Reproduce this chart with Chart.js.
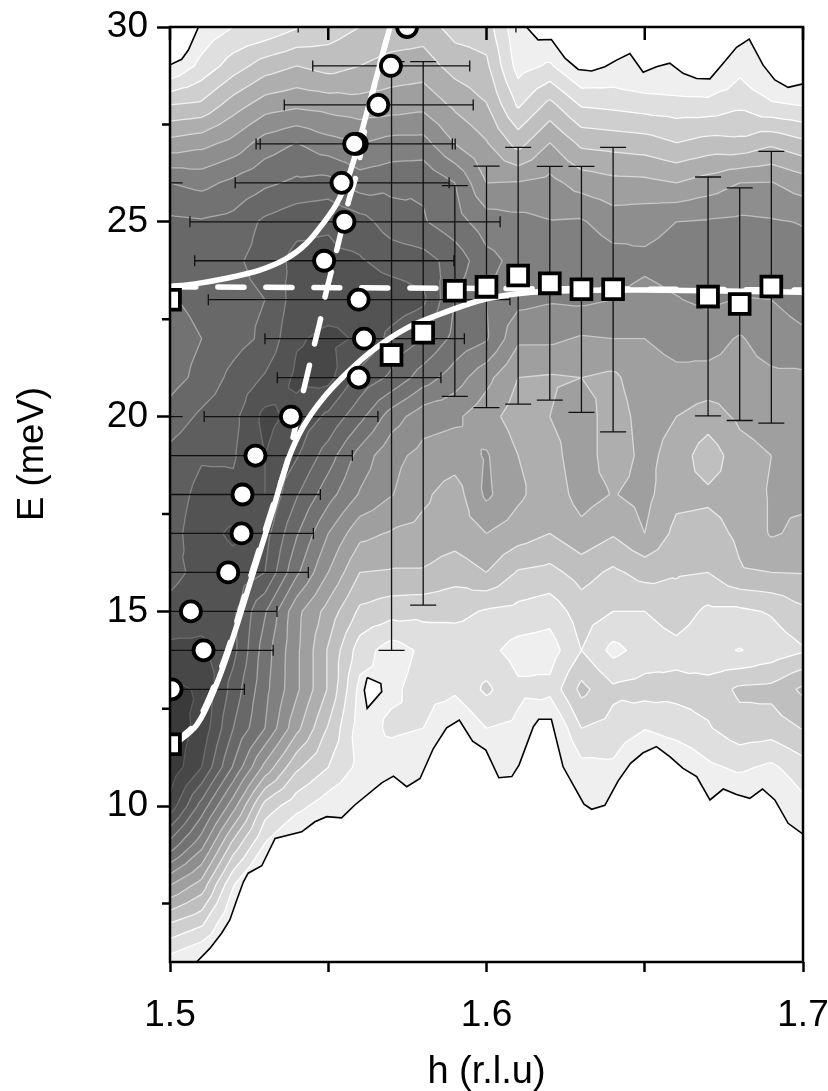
<!DOCTYPE html>
<html>
<head>
<meta charset="utf-8">
<title>E vs h</title>
<script src="https://cdn.jsdelivr.net/npm/chart.js@4/dist/chart.umd.min.js"></script>
<style>
    html, body { margin: 0; background: #fff; }
    canvas { display: block; }
</style>
</head>
<body>
<canvas id="chart" width="828" height="1091"></canvas>
<script>
// --- Axis values ---
const xTicks = [1.5, 1.55, 1.6, 1.65, 1.7];
const xLabels = [1.5, 1.6, 1.7];
const yTicks = [10, 15, 20, 25, 30];
const yMinorTicks = [7.5, 12.5, 17.5, 22.5, 27.5];

// --- Intensity map, one list per h column, each running from E = 30 down to E = 6 ---
const gridH = [1.50, 1.51, 1.52, 1.53, 1.54, 1.55, 1.56, 1.57, 1.58, 1.59, 1.60, 1.61, 1.62, 1.63, 1.64, 1.65, 1.66, 1.67, 1.68, 1.69, 1.70];
const gridE = [30, 29, 28, 27, 26, 25, 24, 23, 22, 21, 20, 19, 18, 17, 16, 15, 14, 13, 12, 11, 10, 9, 8, 7, 6];
const intensity = [
    [0.2, 1, 4, 6.4, 9, 10.2, 10.3, 9.9, 9.5, 9.6, 10.4, 11.3, 11.5, 11.6, 11.8, 12.2, 13.3, 14.2, 14.6, 14.7, 13.6, 10.6, 7.1, 4, 1.5],
    [1.3, 2.3, 4.2, 6.7, 8.7, 10.1, 10.4, 10.3, 10, 10.3, 11.2, 11.9, 12.3, 12.6, 12.2, 12.5, 13.3, 13.9, 13.7, 13, 10.6, 8.3, 5.65, 3.2, 0.7],
    [2, 3.5, 5.5, 7.35, 9.25, 10.3, 10.8, 10.7, 10.6, 11.3, 11.7, 11.9, 12.2, 13.2, 12.6, 12.2, 12.3, 11.6, 11, 9.9, 7.4, 4.6, 2.1, 0.8, 0],
    [2.2, 4.5, 6.5, 8.5, 9.8, 11.2, 11.4, 11, 11.2, 12.1, 13.3, 13, 13, 12.4, 12, 10.1, 9.5, 9.3, 9, 6.7, 3.6, 1.9, 0, 0, 0],
    [2.9, 5, 6.8, 9.05, 10.2, 11.7, 12.3, 12.5, 12.9, 13.2, 12.7, 12.1, 11.1, 10.1, 9.2, 7.3, 7.2, 7.2, 6.3, 4.2, 2.35, 0.5, 0, 0, 0],
    [3.5, 4.6, 6.6, 8.4, 10.35, 11.9, 12.2, 12.6, 13.2, 13.3, 11.8, 10.5, 9.4, 8, 7, 5.6, 4.9, 4.9, 3.9, 3, 1.4, 0, 0, 0, 0],
    [4, 5, 6.4, 8, 9.5, 11.4, 12.1, 12.7, 12.9, 11.7, 10.3, 8.6, 7.9, 6.3, 5, 3.8, 2.5, 1.7, 1.5, 1.7, 0.8, 0, 0, 0, 0],
    [4.3, 5.4, 6.5, 8.4, 9.7, 10.5, 11.6, 12.6, 11.7, 10.8, 8.5, 7.3, 7.05, 5.9, 4.9, 3.4, 1.5, 1.8, 2.2, 1.4, 0, 0, 0, 0, 0],
    [4.5, 5.5, 6.7, 8.4, 9.85, 10.1, 11.4, 12.2, 11, 9.5, 7.4, 6.7, 6.2, 5.7, 4.9, 3.3, 2.2, 2.4, 2, 1.1, 0, 0, 0, 0, 0],
    [3.6, 4.6, 5.8, 7, 9, 9.4, 10.6, 10, 9.7, 8.5, 7.2, 6.5, 5.5, 5.5, 4.4, 3.3, 2.3, 2.2, 0.9, 0, 0, 0, 0, 0, 0],
    [3.5, 4.2, 5.05, 6.1, 7, 8.5, 9.3, 9, 9.1, 7.3, 6.4, 7.1, 7.2, 6, 5, 2.9, 2.3, 3.2, 2, 0.6, 0, 0, 0, 0, 0],
    [1.2, 1.6, 2.85, 4.65, 7.05, 8.3, 8.7, 8.3, 7.2, 6, 5.5, 6, 6.2, 5.5, 3.9, 2.7, 1.6, 2.2, 1.8, 1, 0, 0, 0, 0, 0],
    [0.5, 2.15, 4.3, 6.05, 7.3, 8.05, 8.5, 8.1, 7.2, 5.9, 6, 5.6, 5.4, 5, 3.7, 2.4, 1.5, 2.3, 0.7, 0, 0, 0, 0, 0, 0],
    [0, 0.8, 2.9, 4.8, 6.6, 8.1, 8.8, 8.2, 6.9, 6, 6.5, 6.6, 6.4, 5.7, 4.4, 3.5, 3, 4.3, 3, 1.7, 0.9, 0, 0, 0, 0],
    [0, 1.1, 2.75, 4.65, 6.3, 7.5, 8.4, 8, 7, 5.8, 5.5, 5.4, 5.95, 5.1, 3.8, 3, 1.7, 3.2, 2.7, 1.8, 0.6, 0, 0, 0, 0],
    [0, 0.7, 2.55, 4.5, 6.25, 7.65, 8.2, 7.7, 7, 6.6, 6.4, 6.3, 6.3, 6, 4.35, 3, 2.4, 3.4, 2.05, 0.5, 0, 0, 0, 0, 0],
    [0, 0.6, 2.44, 4.05, 6, 8, 8.4, 7.95, 7.3, 6.8, 6, 5.6, 5.3, 4.7, 4.1, 3.5, 2.7, 3.3, 2.5, 0.9, 0, 0, 0, 0, 0],
    [0, 0.3, 2.4, 4.4, 6.45, 8.1, 8.5, 8.2, 7.4, 6.7, 5.5, 4.4, 5.2, 4.6, 4, 2.8, 2.3, 3.4, 2.9, 1.8, 0.9, 0, 0, 0, 0],
    [0.4, 1.65, 2.8, 4.3, 7, 8.2, 8.6, 7.95, 6.9, 6.6, 6.2, 5.6, 5.4, 5.2, 4.9, 2.8, 1.95, 4.2, 3.6, 2.2, 0.7, 0, 0, 0, 0],
    [0, 0.6, 2.15, 4.85, 7.05, 8.1, 8.6, 8, 7.5, 6.8, 6.5, 6, 6.1, 6.1, 5, 3.1, 2.4, 4.3, 3.5, 1.8, 0.8, 0, 0, 0, 0],
    [0, 0.2, 1.95, 4.3, 6.5, 7.95, 8.3, 8.4, 7.8, 6.8, 6.4, 6.3, 6.2, 5.8, 5.05, 3.8, 2.9, 5.2, 4.05, 2.6, 1.7, 0.7, 0, 0, 0]
];

// Contour level k sits at intensity k; band k is the area between levels k and k + 1
const bandGreys = ['#efefef', '#dfdfdf', '#cfcfcf', '#bfbfbf', '#aeaeae', '#9f9f9f', '#8e8e8e', '#808080', '#727272', '#686868', '#5e5e5e', '#535353', '#474747', '#3a3a3a'];
const lineGreys = ['#000000', '#ffffff', '#ffffff', '#f4f4f4', '#e8e8e8', '#d8d8d8', '#c8c8c8', '#bcbcbc', '#b0b0b0', '#a8a8a8', '#969696', '#868686', '#6e6e6e', '#5c5c5c'];

// --- Zero-intensity outline ---
const bottomH = [1.5084, 1.5126, 1.5163, 1.5189, 1.5211, 1.5232, 1.5247, 1.529, 1.5332, 1.5416, 1.5458, 1.5495, 1.5542, 1.5584, 1.5669, 1.5706, 1.5748, 1.579, 1.5832, 1.5874, 1.5914, 1.5956, 1.5998, 1.6039, 1.608, 1.6103, 1.6148, 1.6165, 1.6205, 1.6242, 1.6308, 1.6332, 1.6374, 1.6416, 1.6455, 1.6495, 1.6537, 1.6579, 1.6621, 1.6664, 1.6706, 1.6748, 1.679, 1.6832, 1.6872, 1.6911, 1.6953, 1.7, 1.7, 1.5084];
const bottomE = [6, 6.35, 6.74, 7.08, 7.59, 8.06, 8.28, 8.47, 9.17, 9.34, 9.6, 9.73, 9.7, 10.03, 10.6, 10.77, 10.5, 10.71, 11.48, 12.01, 12.21, 11.67, 11.44, 10.73, 10.76, 11.06, 12.04, 12.23, 12.23, 11.01, 10.05, 9.92, 10.02, 10.65, 11.1, 11.37, 11.53, 11.27, 10.97, 10.76, 10.16, 10.44, 10.3, 10.2, 10.44, 10.16, 9.56, 9.28, 6, 6];
const topRightH = [1.6126, 1.6163, 1.6205, 1.6248, 1.629, 1.6332, 1.6374, 1.6411, 1.6453, 1.6495, 1.6537, 1.6579, 1.6621, 1.6664, 1.6706, 1.6748, 1.679, 1.683, 1.6874, 1.6911, 1.6953, 1.7, 1.7, 1.6126];
const topRightE = [30, 29.67, 29.68, 29.2, 28.91, 28.87, 28.98, 29.15, 29.32, 28.84, 28.98, 29.07, 28.81, 28.68, 28.67, 29.07, 29.48, 29.69, 29.02, 28.64, 28.45, 28.54, 30, 30];
const topLeftH = [1.5, 1.5037, 1.5058, 1.509, 1.5, 1.5];
const topLeftE = [29.03, 29.17, 29.41, 30, 30, 29.03];
const islandH = [1.5623, 1.5666, 1.5669, 1.5623, 1.5614, 1.5623];
const islandE = [13.3, 13.15, 12.94, 12.51, 12.98, 13.3];

// --- Circles with horizontal error bars ---
const circleE = [30, 29, 28, 27, 27, 26, 25, 24, 23, 22, 21, 20, 19, 18, 17, 16, 15, 14, 13];
const circleH = [1.5749, 1.5698, 1.5658, 1.559, 1.5582, 1.5542, 1.5551, 1.5487, 1.5596, 1.5613, 1.5596, 1.5382, 1.527, 1.5229, 1.5226, 1.5184, 1.5066, 1.5106, 1.5005];
const circleLow = [1.5405, 1.5451, 1.5361, 1.5285, 1.5272, 1.5206, 1.5063, 1.5078, 1.5121, 1.53, 1.5339, 1.5108, 1.4964, 1.4983, 1.5, 1.4931, 1.4794, 1.4886, 1.4775];
const circleHigh = [1.6093, 1.5947, 1.5958, 1.5901, 1.5892, 1.5882, 1.6043, 1.5897, 1.6074, 1.593, 1.5856, 1.5657, 1.5576, 1.5475, 1.5453, 1.5437, 1.5338, 1.5326, 1.5235];
const stubE = [26, 20];
const stubHigh = [1.504, 1.504];

// --- Squares with vertical error bars ---
const squareH = [1.5, 1.5, 1.57, 1.58, 1.59, 1.6, 1.61, 1.62, 1.63, 1.64, 1.67, 1.68, 1.69];
const squareE = [23, 11.59, 21.58, 22.15, 23.23, 23.33, 23.62, 23.42, 23.27, 23.27, 23.08, 22.89, 23.34];
const squareLow = [null, null, 14, 15.16, 20.52, 20.23, 20.32, 20.42, 20.11, 19.61, 20.02, 19.9, 19.83];
const squareHigh = [null, null, 29.11, 29.11, 25.93, 26.43, 26.91, 26.42, 26.42, 26.91, 26.15, 25.87, 26.81];

// --- Fitted dispersion curves ---
const upperH = [1.5, 1.5074, 1.5179, 1.5284, 1.5369, 1.5432, 1.5484, 1.5527, 1.5564, 1.559, 1.5621, 1.5653, 1.5695];
const upperE = [23.34, 23.4, 23.55, 23.76, 24.06, 24.45, 24.96, 25.47, 26.16, 26.84, 27.78, 28.73, 30];
const lowerH = [1.5, 1.5032, 1.5084, 1.5125, 1.5179, 1.5253, 1.5325, 1.5373, 1.5421, 1.5484, 1.5558, 1.5642, 1.5748, 1.585, 1.5979, 1.6084, 1.62, 1.65, 1.7];
const lowerE = [11.59, 11.7, 12.08, 12.7, 13.83, 15.73, 17.6, 18.89, 19.74, 20.47, 21.11, 21.71, 22.27, 22.62, 22.98, 23.14, 23.22, 23.25, 23.19];
const flatDashH = [1.5, 1.7];
const flatDashE = [23.33, 23.25];
const steepDashH = [1.5, 1.5032, 1.5084, 1.5125, 1.5179, 1.5253, 1.5325, 1.5369, 1.5421, 1.5456, 1.5474, 1.549, 1.5527, 1.5564, 1.559, 1.5621, 1.5653, 1.5695];
const steepDashE = [11.59, 11.75, 12.15, 12.8, 13.93, 15.85, 17.7, 18.8, 20.64, 21.84, 22.44, 23.08, 24.28, 25.52, 26.25, 27.61, 28.73, 30];

const toPoints = (xs, ys) => xs.map((x, i) => ({ x: x, y: ys[i] }));

// --- Filled contour map, drawn through the chart scales ---
function addTriangle(fillPath, linePath, level, tri) {
    const poly = [];
    const cross = [];
    for (let i = 0; i < 3; i++) {
        const a = tri[i];
        const b = tri[(i + 1) % 3];
        if (a.v >= level) poly.push(a);
        if ((a.v >= level) !== (b.v >= level)) {
            const t = (level - a.v) / (b.v - a.v);
            const p = { px: a.px + t * (b.px - a.px), py: a.py + t * (b.py - a.py) };
            poly.push(p);
            cross.push(p);
        }
    }
    if (poly.length < 3) return;
    fillPath.moveTo(poly[0].px, poly[0].py);
    for (let i = 1; i < poly.length; i++) fillPath.lineTo(poly[i].px, poly[i].py);
    fillPath.closePath();
    if (cross.length === 2) {
        linePath.moveTo(cross[0].px, cross[0].py);
        linePath.lineTo(cross[1].px, cross[1].py);
    }
}

const contourPlugin = {
    id: 'contourMap',
    beforeDatasetsDraw(chart) {
        const { ctx, chartArea: area, scales: { x, y } } = chart;
        const node = (i, j) => ({ px: x.getPixelForValue(gridH[i]), py: y.getPixelForValue(gridE[j]), v: intensity[i][j] });

        ctx.save();
        ctx.beginPath();
        ctx.rect(area.left, area.top, area.width, area.height);
        ctx.clip();
        ctx.fillStyle = bandGreys[0];
        ctx.fillRect(area.left, area.top, area.width, area.height);

        const triangles = [];
        for (let i = 0; i < gridH.length - 1; i++) {
            for (let j = 0; j < gridE.length - 1; j++) {
                const c = [node(i, j), node(i + 1, j), node(i + 1, j + 1), node(i, j + 1)];
                const mid = {
                    px: (c[0].px + c[2].px) / 2,
                    py: (c[0].py + c[2].py) / 2,
                    v: (c[0].v + c[1].v + c[2].v + c[3].v) / 4
                };
                for (let k = 0; k < 4; k++) triangles.push([c[k], c[(k + 1) % 4], mid]);
            }
        }

        const lines = [];
        for (let level = 2; level <= bandGreys.length; level++) {
            const fillPath = new Path2D();
            const linePath = new Path2D();
            triangles.forEach(tri => addTriangle(fillPath, linePath, level, tri));
            ctx.fillStyle = bandGreys[level - 1];
            ctx.fill(fillPath);
            lines.push({ path: linePath, color: lineGreys[level - 1] });
        }
        ctx.lineWidth = 1.3;
        ctx.lineJoin = 'round';
        lines.forEach(line => {
            ctx.strokeStyle = line.color;
            ctx.stroke(line.path);
        });

        // Error bars sit between the map and the curves
        ctx.strokeStyle = '#111';
        ctx.lineWidth = 1.3;
        ctx.beginPath();
        circleE.forEach((e, i) => {
            const py = y.getPixelForValue(e);
            const lo = x.getPixelForValue(circleLow[i]);
            const hi = x.getPixelForValue(circleHigh[i]);
            ctx.moveTo(lo, py);
            ctx.lineTo(hi, py);
            ctx.moveTo(lo, py - 5.5);
            ctx.lineTo(lo, py + 5.5);
            ctx.moveTo(hi, py - 5.5);
            ctx.lineTo(hi, py + 5.5);
        });
        stubE.forEach((e, i) => {
            const py = y.getPixelForValue(e);
            ctx.moveTo(area.left, py);
            ctx.lineTo(x.getPixelForValue(stubHigh[i]), py);
        });
        squareH.forEach((h, i) => {
            if (squareLow[i] === null) return;
            const px = x.getPixelForValue(h);
            const lo = y.getPixelForValue(squareLow[i]);
            const hi = y.getPixelForValue(squareHigh[i]);
            ctx.moveTo(px, lo);
            ctx.lineTo(px, hi);
            ctx.moveTo(px - 13, lo);
            ctx.lineTo(px + 13, lo);
            ctx.moveTo(px - 13, hi);
            ctx.lineTo(px + 13, hi);
        });
        ctx.stroke();
        ctx.restore();
    },
    afterDatasetsDraw(chart) {
        const { ctx, chartArea: area, scales: { x, y } } = chart;
        ctx.save();
        ctx.strokeStyle = '#000';
        ctx.lineWidth = 2.5;
        ctx.strokeRect(area.left, area.top, area.width, area.height);
        ctx.beginPath();
        xTicks.forEach(t => {
            const px = x.getPixelForValue(t);
            ctx.moveTo(px, area.top);
            ctx.lineTo(px, area.top + 13);
        });
        yMinorTicks.forEach(t => {
            const py = y.getPixelForValue(t);
            ctx.moveTo(area.left, py);
            ctx.lineTo(area.left - 8, py);
        });
        ctx.stroke();

        // y title sits above the middle of the axis, so it is placed by hand
        ctx.translate(33, 454);
        ctx.rotate(-Math.PI / 2);
        ctx.fillStyle = '#000';
        ctx.font = '36.5px "Liberation Sans", Arial, sans-serif';
        ctx.textAlign = 'center';
        ctx.textBaseline = 'middle';
        ctx.fillText('E (meV)', 0, 0);
        ctx.restore();
    }
};

const curve = (xs, ys, dash) => ({
    type: 'scatter',
    data: toPoints(xs, ys),
    showLine: true,
    borderColor: '#fff',
    borderWidth: 5.5,
    borderDash: dash,
    borderCapStyle: dash.length ? 'round' : 'butt',
    tension: 0.3,
    pointRadius: 0,
    fill: false,
    clip: 0
});

const outline = (xs, ys) => ({
    type: 'scatter',
    data: toPoints(xs, ys),
    showLine: true,
    borderColor: '#000',
    borderWidth: 1.6,
    backgroundColor: '#fff',
    pointRadius: 0,
    fill: 'shape',
    clip: 0
});

const tickFont = { family: '"Liberation Sans", Arial, sans-serif', size: 37 };

new Chart(document.getElementById('chart'), {
    type: 'scatter',
    plugins: [contourPlugin],
    data: {
        datasets: [
            {
                data: toPoints(circleH, circleE),
                pointStyle: 'circle',
                pointRadius: 10,
                pointBorderWidth: 3.8,
                pointBackgroundColor: '#fff',
                pointBorderColor: '#000',
                clip: 0
            },
            {
                data: toPoints(squareH, squareE),
                pointStyle: 'rect',
                pointRadius: 14,
                pointBorderWidth: 3.8,
                pointBackgroundColor: '#fff',
                pointBorderColor: '#000',
                clip: 0
            },
            curve(upperH, upperE, []),
            curve(lowerH, lowerE, []),
            curve(flatDashH, flatDashE, [26, 22]),
            curve(steepDashH, steepDashE, [26, 22]),
            outline(bottomH, bottomE),
            outline(topRightH, topRightE),
            outline(topLeftH, topLeftE),
            outline(islandH, islandE)
        ]
    },
    options: {
        responsive: false,
        animation: false,
        layout: { padding: { top: 27, right: 25, left: 0, bottom: 0 } },
        plugins: { legend: { display: false }, tooltip: { enabled: false } },
        scales: {
            x: {
                type: 'linear',
                min: 1.5,
                max: 1.7,
                afterBuildTicks: axis => { axis.ticks = xTicks.map(v => ({ value: v })); },
                afterFit: axis => {
                    axis.height = 129;
                    axis.paddingLeft = 0;
                    axis.paddingRight = 0;
                },
                grid: { drawOnChartArea: false, tickLength: 10, tickWidth: 2.5, tickColor: '#000' },
                border: { display: false },
                ticks: {
                    font: tickFont,
                    color: '#000',
                    padding: 22,
                    autoSkip: false,
                    maxRotation: 0,
                    callback: value => xLabels.includes(value) ? value.toFixed(1) : ''
                },
                title: { display: true, text: 'h (r.l.u)', font: { family: tickFont.family, size: 38 }, color: '#000', padding: { top: 0, bottom: -4 } }
            },
            y: {
                type: 'linear',
                min: 6,
                max: 30,
                afterBuildTicks: axis => { axis.ticks = yTicks.map(v => ({ value: v })); },
                afterFit: axis => {
                    axis.width = 170;
                    axis.paddingTop = 0;
                    axis.paddingBottom = 0;
                },
                grid: { drawOnChartArea: false, tickLength: 13, tickWidth: 2.5, tickColor: '#000' },
                border: { display: false },
                ticks: { font: tickFont, color: '#000', padding: 9, autoSkip: false }
            }
        }
    }
});
</script>
</body>
</html>
